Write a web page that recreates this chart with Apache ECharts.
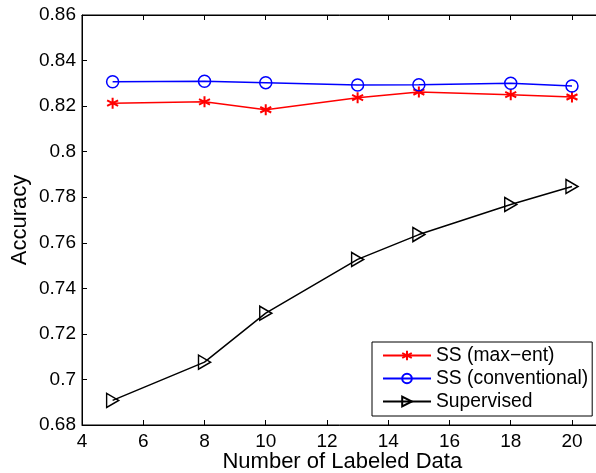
<!DOCTYPE html>
<html>
<head>
<meta charset="utf-8">
<script src="https://cdn.jsdelivr.net/npm/echarts@6/dist/echarts.min.js"></script>
<style>html,body{margin:0;padding:0;background:#fff;}#c{width:596px;height:473px;}</style>
</head>
<body>
<div id="c"></div>
<script>
var xValues = [5, 8, 10, 13, 15, 18, 20];
var ssMaxEnt = [0.8213, 0.8219, 0.8184, 0.8237, 0.8262, 0.8250, 0.8240];
var ssConventional = [0.8307, 0.8309, 0.8303, 0.8293, 0.8294, 0.8300, 0.8288];
var supervised = [0.6908, 0.7076, 0.7291, 0.7527, 0.7636, 0.7768, 0.7847];
var seriesNames = ['SS (max\u2212ent)', 'SS (conventional)', 'Supervised'];
var xTitle = 'Number of Labeled Data';
var yTitle = 'Accuracy';

var FONT = '"Liberation Sans", Arial, Helvetica, sans-serif';
function pairs(vals) { return xValues.map(function (x, i) { return [x, vals[i]]; }); }

var asterisk = 'path://M0,-6L0,6M-5.2,-3L5.2,3M-5.2,3L5.2,-3';
var triRight = 'path://M0,0L11,6.5L0,13Z';

var chart = echarts.init(document.getElementById('c'), null, {renderer: 'canvas'});
chart.setOption({
  animation: false,
  backgroundColor: '#fff',
  grid: {left: 82, top: 15, width: 520.6, height: 410, outerBoundsMode: 'none', containLabel: false,
    show: true, borderColor: '#000', borderWidth: 1, backgroundColor: 'transparent'},
  xAxis: [{
    type: 'value', min: 4, max: 21, interval: 2,
    name: xTitle, nameLocation: 'middle', nameGap: 26, nameMoveOverlap: false,
    nameTextStyle: {fontFamily: FONT, fontSize: 22, color: '#000'},
    axisLine: {show: true, lineStyle: {color: '#000', width: 1}},
    axisTick: {show: true, inside: true, length: 5, lineStyle: {color: '#000'}},
    axisLabel: {margin: 7, fontFamily: FONT, fontSize: 19, color: '#000',
      formatter: function (v) { return (v % 2 === 0 && v <= 20) ? String(v) : ''; }},
    splitLine: {show: false}
  }, {
    type: 'value', position: 'top', min: 4, max: 21, interval: 2,
    axisLine: {show: true, lineStyle: {color: '#000'}},
    axisTick: {show: true, inside: true, length: 5, lineStyle: {color: '#000'}},
    axisLabel: {show: false}, splitLine: {show: false}
  }],
  yAxis: [{
    type: 'value', min: 0.68, max: 0.86, interval: 0.02,
    name: yTitle, nameLocation: 'middle', nameGap: 51, nameMoveOverlap: false,
    nameTextStyle: {fontFamily: FONT, fontSize: 22, color: '#000'},
    axisLine: {show: true, lineStyle: {color: '#000'}},
    axisTick: {show: true, inside: true, length: 5, lineStyle: {color: '#000'}},
    axisLabel: {margin: 6, fontFamily: FONT, fontSize: 19, color: '#000',
      formatter: function (v) { return String(parseFloat(v.toFixed(2))); }},
    splitLine: {show: false}
  }, {
    type: 'value', position: 'right', min: 0.68, max: 0.86, interval: 0.02,
    axisLine: {show: true, lineStyle: {color: '#000'}},
    axisTick: {show: true, inside: true, length: 5, lineStyle: {color: '#000'}},
    axisLabel: {show: false}, splitLine: {show: false}
  }],
  legend: {
    orient: 'vertical', left: 372, top: 342,
    backgroundColor: '#fff', borderColor: '#000', borderWidth: 1,
    padding: [4, 4, 5, 10], itemWidth: 48, itemHeight: 12, itemGap: 4,
    textStyle: {fontFamily: FONT, fontSize: 19.3, color: '#000', lineHeight: 19},
    data: seriesNames
  },
  series: [{
    name: seriesNames[0], type: 'line', data: pairs(ssMaxEnt),
    symbol: asterisk, symbolSize: 11,
    lineStyle: {color: '#ff0000', width: 1.5},
    itemStyle: {color: 'rgba(0,0,0,0)', borderColor: '#ff0000', borderWidth: 2}
  }, {
    name: seriesNames[1], type: 'line', data: pairs(ssConventional),
    symbol: 'circle', symbolSize: 12,
    lineStyle: {color: '#0000ff', width: 1.5},
    itemStyle: {color: 'rgba(0,0,0,0)', borderColor: '#0000ff', borderWidth: 1.5}
  }, {
    name: seriesNames[2], type: 'line', data: pairs(supervised),
    symbol: triRight, symbolSize: [12, 14],
    lineStyle: {color: '#000', width: 1.5},
    itemStyle: {color: 'rgba(0,0,0,0)', borderColor: '#000', borderWidth: 1.5}
  }]
});
</script>
</body>
</html>
